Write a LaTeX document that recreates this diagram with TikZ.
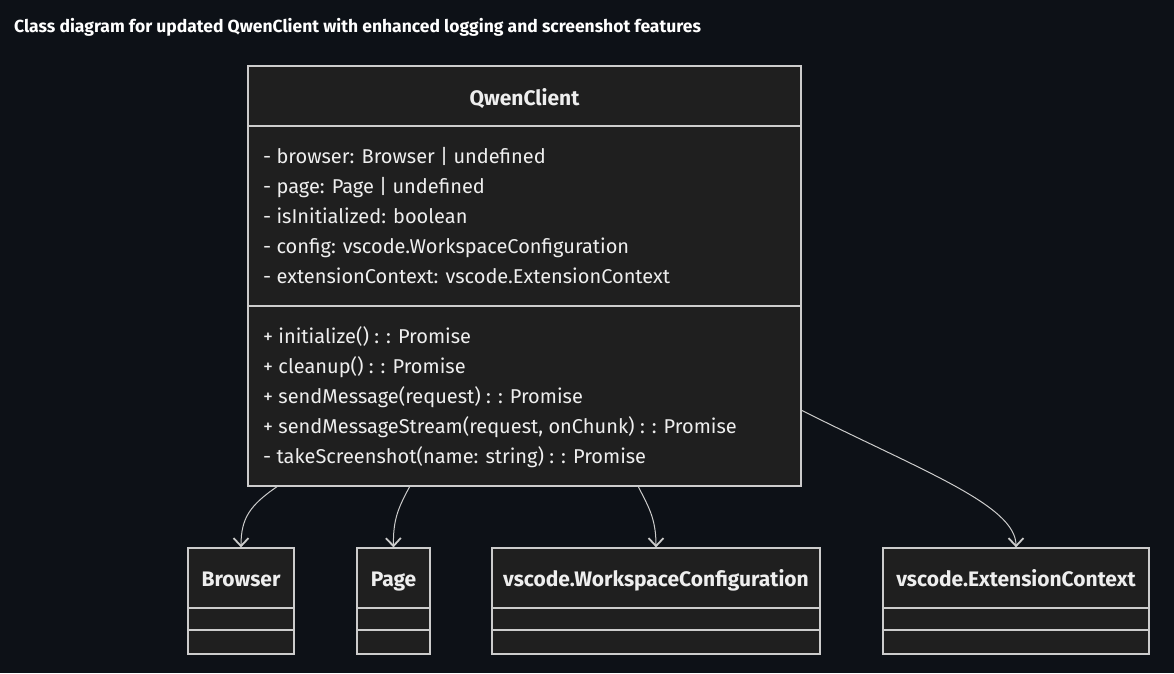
\documentclass[tikz,border=0pt]{standalone}
\usepackage{fontspec}
\setmainfont{Fira Sans}
\usetikzlibrary{arrows.meta}
\definecolor{bg}{HTML}{0D1117}
\definecolor{boxfill}{HTML}{1F1F1F}
\definecolor{boxline}{HTML}{CCCCCC}
\definecolor{txt}{HTML}{EEEEEE}
\tikzset{
  classbox/.style={draw=boxline, fill=boxfill, line width=1.3pt, inner sep=0pt, rectangle},
  divider/.style={draw=boxline, line width=1.3pt},
  member/.style={anchor=west, text=txt, inner sep=0pt, text height=15pt, text depth=1pt, font=\fontsize{20}{24}\selectfont},
  cname/.style={text=txt, inner sep=0pt, text height=16pt, text depth=0pt, font=\fontsize{21}{25}\selectfont\bfseries},
  dep/.style={draw=boxline, line width=1pt, -{Straight Barb[length=8pt,width=15pt,line width=1.8pt]}},
}
\begin{document}
\begin{tikzpicture}[x=1pt,y=-1pt]
\fill[bg] (0,0) rectangle (1174,673);
\useasboundingbox (0,0) rectangle (1174,673);
\node[anchor=west, text=white, inner sep=0pt, text height=13pt, text depth=0pt, font=\fontsize{17.5}{20}\selectfont\bfseries] (title) at (14,26) {Class diagram for updated QwenClient with enhanced logging and screenshot features};

% QwenClient
\node[classbox, minimum width=553pt, minimum height=420pt] (qc) at (524.5,276) {};
\draw[divider] (248,126) -- (801,126);
\draw[divider] (248,306) -- (801,306);
\node[cname] (qcname) at (524.5,97) {QwenClient};
\node[member] (a1) at (263,156) {- browser: Browser | undefined};
\node[member] (a2) at (263,186) {- page: Page | undefined};
\node[member] (a3) at (263,216) {- isInitialized: boolean};
\node[member] (a4) at (263,246) {- config: vscode.WorkspaceConfiguration};
\node[member] (a5) at (263,276) {- extensionContext: vscode.ExtensionContext};
\node[member] (m1) at (263,336) {+ initialize() : : Promise};
\node[member] (m2) at (263,366) {+ cleanup() : : Promise};
\node[member] (m3) at (263,396) {+ sendMessage(request) : : Promise};
\node[member] (m4) at (263,426) {+ sendMessageStream(request, onChunk) : : Promise};
\node[member] (m5) at (263,456) {- takeScreenshot(name: string) : : Promise};

% small classes
\node[classbox, minimum width=106pt, minimum height=106pt] (br) at (241,601) {};
\draw[divider] (188,608) -- (294,608);
\draw[divider] (188,630) -- (294,630);
\node[cname] (brname) at (241,578) {Browser};

\node[classbox, minimum width=73pt, minimum height=106pt] (pg) at (393.5,601) {};
\draw[divider] (357,608) -- (430,608);
\draw[divider] (357,630) -- (430,630);
\node[cname] (pgname) at (393.5,578) {Page};

\node[classbox, minimum width=328pt, minimum height=106pt] (wc) at (656,601) {};
\draw[divider] (492,608) -- (820,608);
\draw[divider] (492,630) -- (820,630);
\node[cname] (wcname) at (656,578) {vscode.WorkspaceConfiguration};

\node[classbox, minimum width=266pt, minimum height=106pt] (ec) at (1016,601) {};
\draw[divider] (883,608) -- (1149,608);
\draw[divider] (883,630) -- (1149,630);
\node[cname] (ecname) at (1016,578) {vscode.ExtensionContext};

% connector start points on QwenClient border
\coordinate (s1) at (278,486);
\coordinate (s2) at (410,486);
\coordinate (s3) at (638,486);
\coordinate (s4) at (801,410);

\draw[dep] (s1) .. controls (250,505) and (241,518) .. (br.north);
\draw[dep] (s2) .. controls (398,508) and (393,520) .. (pg.north);
\draw[dep] (s3) .. controls (648,506) and (656,518) .. (wc.north);
\draw[dep] (s4) .. controls (920,470) and (1016,505) .. (ec.north);
\end{tikzpicture}
\end{document}
